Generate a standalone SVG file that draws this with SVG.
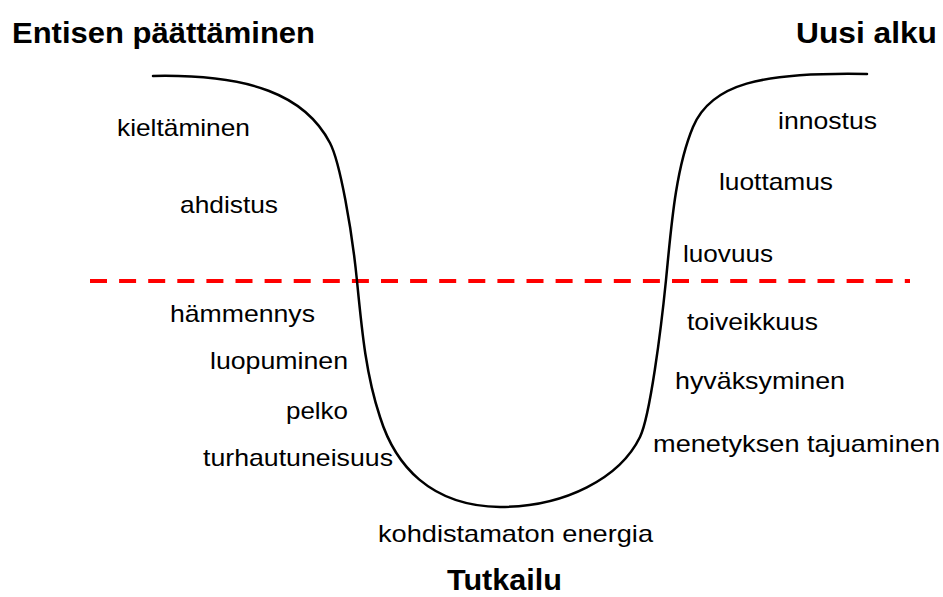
<svg xmlns="http://www.w3.org/2000/svg" width="943" height="597" viewBox="0 0 943 597">
<style>
  .t { font-family: "Liberation Sans", Arial, sans-serif; font-size: 24px; fill: #000; }
  .h { font-family: "Liberation Sans", Arial, sans-serif; font-size: 29px; font-weight: bold; fill: #000; }
  .curve { fill: none; stroke: #000; stroke-width: 2.5; stroke-linecap: round; }
  .dash { fill: none; stroke: #ff0000; stroke-width: 4; stroke-dasharray: 17 12.1; }
</style>
<rect width="943" height="597" fill="#ffffff"/>
<g id="connectors">
  <line class="dash" x1="90" y1="281" x2="910" y2="281"/>
  <path class="curve" d="M153,76 C250,74 305,95 330,143 C340,162 352,230 357,281 C362,332 366,375 380,417 C395,465 430,506 500,507 C565,507 620,478 640,437 C650,416.5 661,330 666,280 C671,230 675,170 693,127 C711,84 760,72 867,74"/>
</g>
<g id="title-left"><text class="h" x="12" y="43" textLength="303" lengthAdjust="spacingAndGlyphs">Entisen päättäminen</text></g>
<g id="title-right"><text class="h" x="796" y="43" textLength="141" lengthAdjust="spacingAndGlyphs">Uusi alku</text></g>
<g id="title-bottom"><text class="h" x="447" y="590" font-size="28" textLength="115" lengthAdjust="spacingAndGlyphs">Tutkailu</text></g>
<g id="kieltaminen"><text class="t" x="117" y="136" textLength="133" lengthAdjust="spacingAndGlyphs">kieltäminen</text></g>
<g id="ahdistus"><text class="t" x="180" y="213" textLength="98" lengthAdjust="spacingAndGlyphs">ahdistus</text></g>
<g id="hammennys"><text class="t" x="170" y="322" textLength="145" lengthAdjust="spacingAndGlyphs">hämmennys</text></g>
<g id="luopuminen"><text class="t" x="210" y="369" textLength="138" lengthAdjust="spacingAndGlyphs">luopuminen</text></g>
<g id="pelko"><text class="t" x="286" y="419" textLength="62" lengthAdjust="spacingAndGlyphs">pelko</text></g>
<g id="turhautuneisuus"><text class="t" x="203" y="466" textLength="190" lengthAdjust="spacingAndGlyphs">turhautuneisuus</text></g>
<g id="kohdistamaton"><text class="t" x="378" y="542" textLength="275" lengthAdjust="spacingAndGlyphs">kohdistamaton  energia</text></g>
<g id="innostus"><text class="t" x="778" y="129" textLength="99" lengthAdjust="spacingAndGlyphs">innostus</text></g>
<g id="luottamus"><text class="t" x="719" y="190" textLength="114" lengthAdjust="spacingAndGlyphs">luottamus</text></g>
<g id="luovuus"><text class="t" x="683" y="262" textLength="90" lengthAdjust="spacingAndGlyphs">luovuus</text></g>
<g id="toiveikkuus"><text class="t" x="687" y="330" textLength="131" lengthAdjust="spacingAndGlyphs">toiveikkuus</text></g>
<g id="hyvaksyminen"><text class="t" x="675" y="389" textLength="170" lengthAdjust="spacingAndGlyphs">hyväksyminen</text></g>
<g id="menetyksen"><text class="t" x="653" y="452" textLength="287" lengthAdjust="spacingAndGlyphs">menetyksen  tajuaminen</text></g>
</svg>
